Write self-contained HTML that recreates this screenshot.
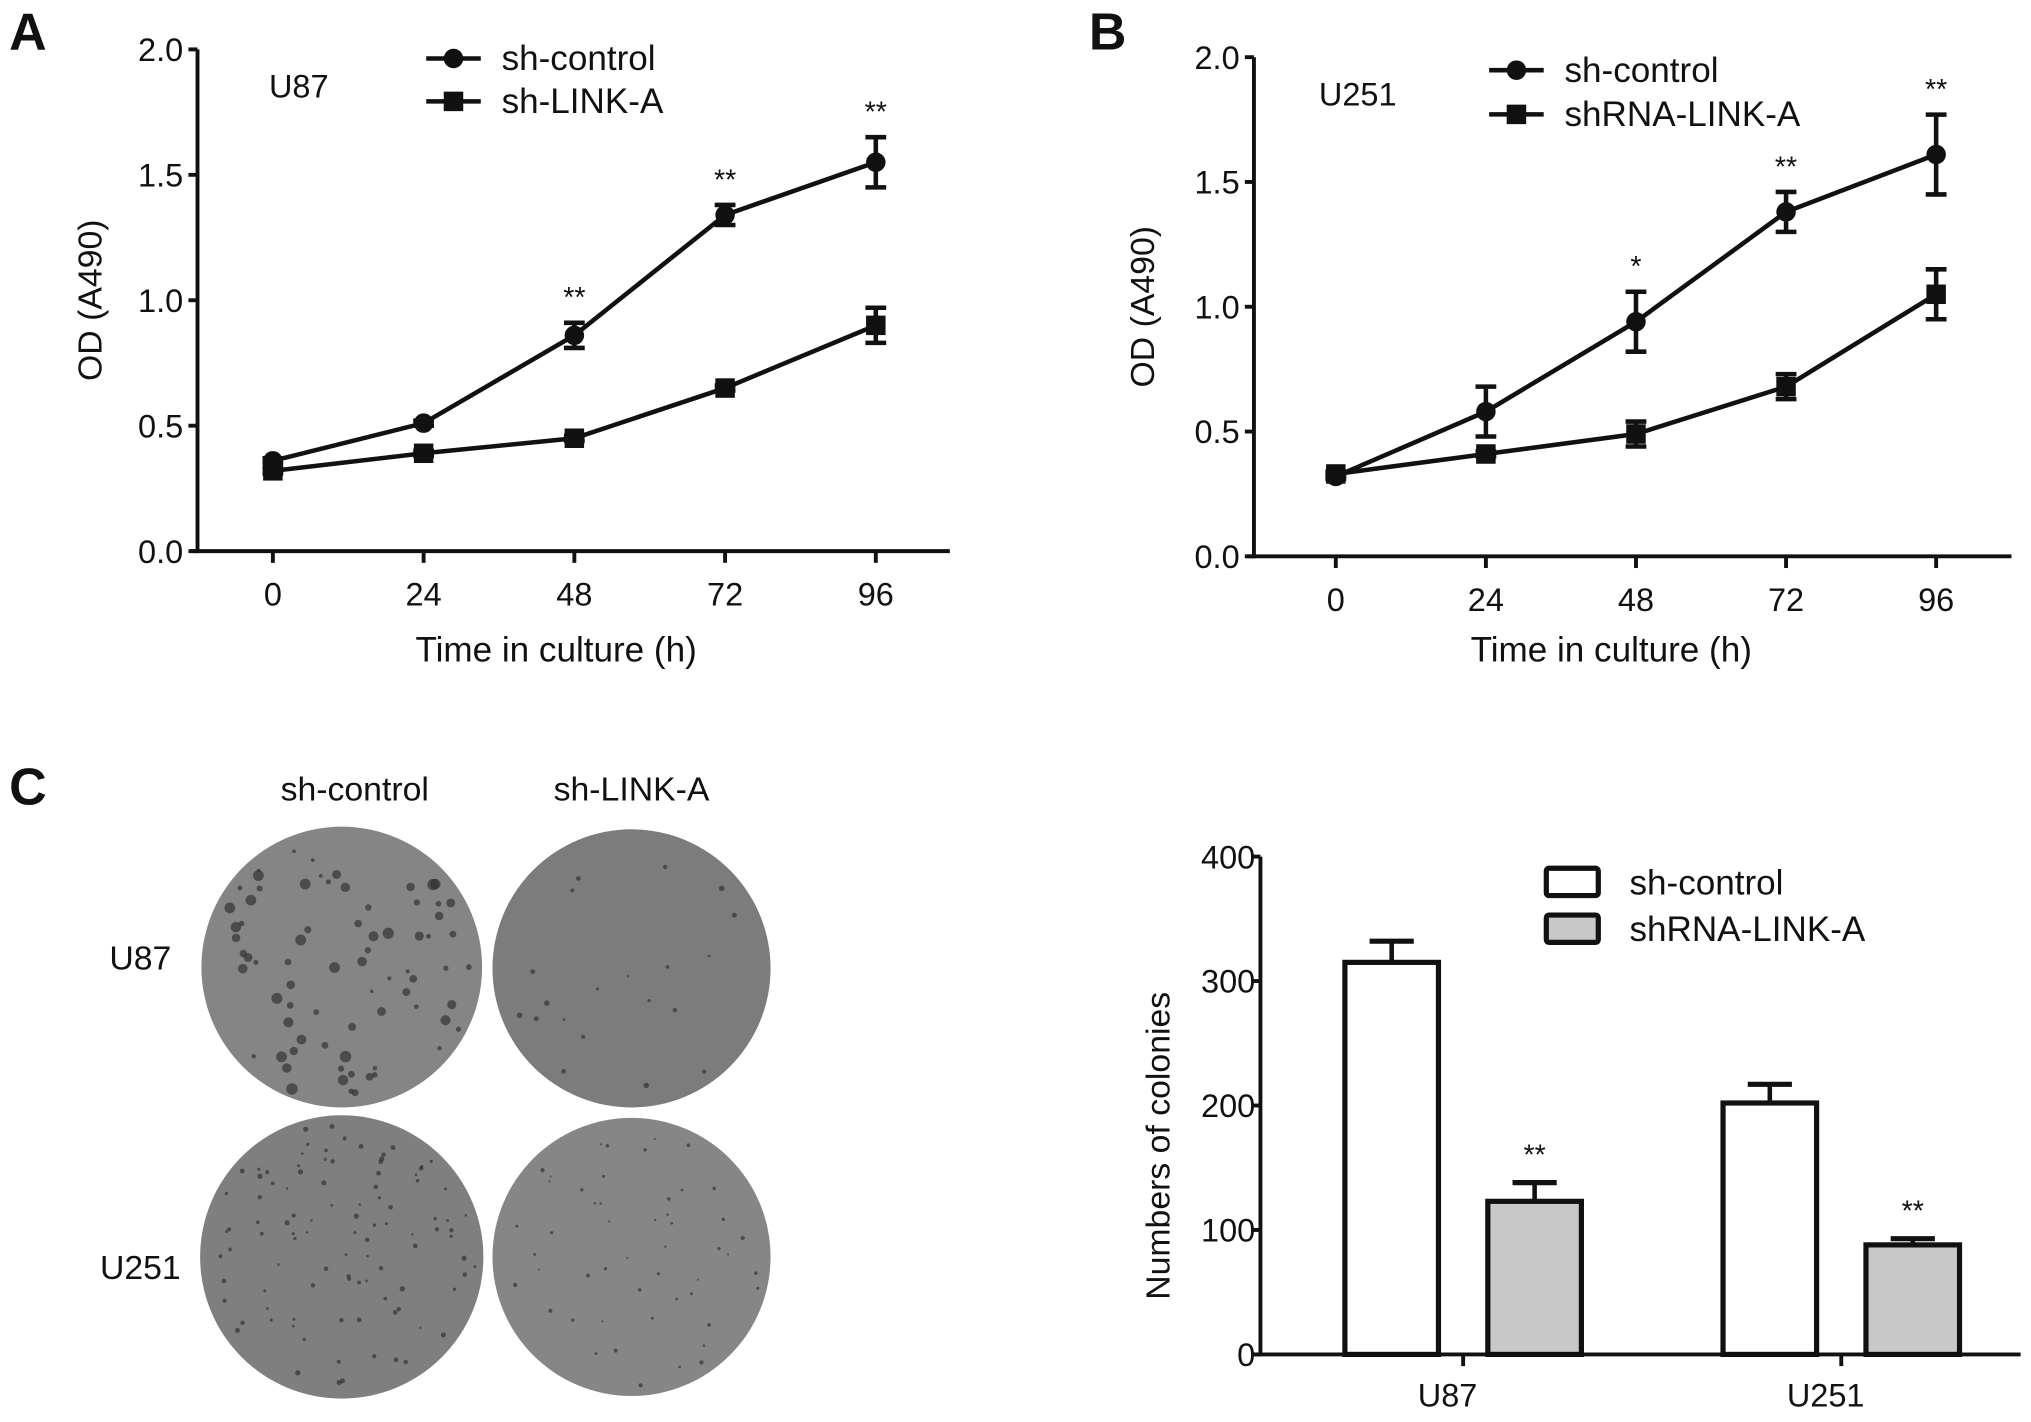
<!DOCTYPE html>
<html><head><meta charset="utf-8"><style>
html,body{margin:0;padding:0;background:#fff}
svg{display:block}
text{font-family:"Liberation Sans",Arial,sans-serif;fill:#111}
</style></head><body>
<svg id="fig" width="2031" height="1422" viewBox="0 0 1563 1094" preserveAspectRatio="none">
<g id="panelA"></g>
<g id="panelB"></g>
<g id="panelC"></g>
<g id="panelD"></g>
</svg>
<script>
// ---- Data ----
const timeCategories = [0, 24, 48, 72, 96];
const odTicks = [0.0, 0.5, 1.0, 1.5, 2.0];
const u87Control = [0.36, 0.51, 0.86, 1.34, 1.55];
const u87ControlErr = [0.01, 0.01, 0.05, 0.04, 0.10];
const u87Link = [0.32, 0.39, 0.45, 0.65, 0.90];
const u87LinkErr = [0.01, 0.01, 0.01, 0.01, 0.07];
const u87Stars = ["", "", "**", "**", "**"];
const u251Control = [0.32, 0.58, 0.94, 1.38, 1.61];
const u251ControlErr = [0.01, 0.10, 0.12, 0.08, 0.16];
const u251Link = [0.33, 0.41, 0.49, 0.68, 1.05];
const u251LinkErr = [0.01, 0.01, 0.05, 0.05, 0.10];
const u251Stars = ["", "", "*", "**", "**"];
const colonyCategories = ["U87", "U251"];
const colonyTicks = [0, 100, 200, 300, 400];
const colonyControl = [315, 202];
const colonyControlErr = [17, 15];
const colonyLink = [123, 88];
const colonyLinkErr = [15, 5];
const colonyStars = ["**", "**"];

const NS = "http://www.w3.org/2000/svg";
function mk(parent, tag, attrs, txt){
  const e = document.createElementNS(NS, tag);
  for (const k in attrs) e.setAttribute(k, attrs[k]);
  if (txt !== undefined) e.textContent = txt;
  parent.appendChild(e);
  return e;
}

function lineChart(g, cfg){
  const xs = t => cfg.x0 + (t - timeCategories[0]) / (timeCategories[4] - timeCategories[0]) * (cfg.x1 - cfg.x0);
  const ys = v => cfg.yb - v / 2.0 * (cfg.yb - cfg.yt);
  let e;
  e = mk(g, "line", {x1: cfg.ax, y1: cfg.yt, x2: cfg.ax, y2: cfg.yb + 1.5, stroke: "#111", "stroke-width": 3});
  
  
  e = mk(g, "line", {x1: cfg.ax - 5, y1: cfg.yb, x2: cfg.xe, y2: cfg.yb, stroke: "#111", "stroke-width": 3});
  
  
  odTicks.forEach(v => {
    mk(g, "line", {x1: cfg.ax - 7, y1: ys(v), x2: cfg.ax, y2: ys(v), stroke: "#111", "stroke-width": 3});
    e = mk(g, "text", {x: cfg.ax - 11, y: ys(v) + 9, "text-anchor": "end", "font-size": 25}, v.toFixed(1));
    
    
  });
  timeCategories.forEach(t => {
    mk(g, "line", {x1: xs(t), y1: cfg.yb, x2: xs(t), y2: cfg.yb + 9, stroke: "#111", "stroke-width": 3});
    e = mk(g, "text", {x: xs(t), y: cfg.yb + 42, "text-anchor": "middle", "font-size": 25}, String(t));
    
    
  });
  e = mk(g, "text", {x: cfg.xtitle, y: 509, "text-anchor": "middle", "font-size": 27}, "Time in culture (h)");
  
  
  e = mk(g, "text", {x: 0, y: 0, "text-anchor": "middle", "font-size": 26, transform: `translate(${cfg.ytx},${(cfg.yt + cfg.yb) / 2}) rotate(-90)`}, "OD (A490)");
  
  
  e = mk(g, "text", {x: cfg.pl[0], y: cfg.pl[1], "font-size": 40, "font-weight": "bold"}, cfg.panel);
  
  
  e = mk(g, "text", {x: cfg.cell[0], y: cfg.cell[1], "font-size": 25}, cfg.cellName);
  
  

  function series(vals, errs, shape, name){
    const sg = mk(g, "g", {});
    
    
    const pts = timeCategories.map((t, i) => xs(t) + "," + ys(vals[i])).join(" ");
    mk(sg, "polyline", {points: pts, fill: "none", stroke: "#111", "stroke-width": 3.5});
    timeCategories.forEach((t, i) => {
      const x = xs(t), y = ys(vals[i]), eh = ys(vals[i] + errs[i]), el = ys(vals[i] - errs[i]);
      mk(sg, "line", {x1: x, y1: eh, x2: x, y2: el, stroke: "#111", "stroke-width": 3.5});
      mk(sg, "line", {x1: x - 8, y1: eh, x2: x + 8, y2: eh, stroke: "#111", "stroke-width": 3.5});
      mk(sg, "line", {x1: x - 8, y1: el, x2: x + 8, y2: el, stroke: "#111", "stroke-width": 3.5});
      let m;
      if (shape === "circle") m = mk(sg, "circle", {cx: x, cy: y, r: 7.5, fill: "#111"});
      else m = mk(sg, "rect", {x: x - 7.5, y: y - 7.5, width: 15, height: 15, fill: "#111"});
      
      
    });
  }
  series(cfg.ctrl, cfg.ctrlErr, "circle", "series-sh-control");
  series(cfg.link, cfg.linkErr, "square", "series-link-a");
  timeCategories.forEach((t, i) => {
    if (!cfg.stars[i]) return;
    const y = ys(cfg.ctrl[i] + cfg.ctrlErr[i]) - 12;
    e = mk(g, "text", {x: xs(t), y: y, "text-anchor": "middle", "font-size": 22}, cfg.stars[i]);
    
    
  });
  [[cfg.leg[1], "circle", cfg.legNames[0]], [cfg.leg[2], "square", cfg.legNames[1]]].forEach(([ly, sh, nm]) => {
    const lg = mk(g, "g", {});
    
    
    mk(lg, "line", {x1: cfg.leg[0], y1: ly, x2: cfg.leg[0] + 42, y2: ly, stroke: "#111", "stroke-width": 3.5});
    if (sh === "circle") mk(lg, "circle", {cx: cfg.leg[0] + 21, cy: ly, r: 7.5, fill: "#111"});
    else mk(lg, "rect", {x: cfg.leg[0] + 13.5, y: ly - 7.5, width: 15, height: 15, fill: "#111"});
    mk(lg, "text", {x: cfg.leg[0] + 58, y: ly + 9, "font-size": 27}, nm);
  });
}

lineChart(document.getElementById("panelA"), {
  ax: 152, yt: 38, yb: 424, x0: 210, x1: 674, xe: 731, xtitle: 428, ytx: 78,
  panel: "A", pl: [7, 38], cell: [207, 75], cellName: "U87",
  ctrl: u87Control, ctrlErr: u87ControlErr, link: u87Link, linkErr: u87LinkErr, stars: u87Stars,
  leg: [328, 45, 78], legNames: ["sh-control", "sh-LINK-A"]
});
lineChart(document.getElementById("panelB"), {
  ax: 965, yt: 44, yb: 428, x0: 1028, x1: 1490, xe: 1548, xtitle: 1240, ytx: 888,
  panel: "B", pl: [838, 38], cell: [1015, 81], cellName: "U251",
  ctrl: u251Control, ctrlErr: u251ControlErr, link: u251Link, linkErr: u251LinkErr, stars: u251Stars,
  leg: [1146, 54, 88], legNames: ["sh-control", "shRNA-LINK-A"]
});

// ---- Panel C plates ----
(function(){
  const g = document.getElementById("panelC");
  let e = mk(g, "text", {x: 7, y: 619, "font-size": 40, "font-weight": "bold"}, "C");
  
  
  [["sh-control", 273], ["sh-LINK-A", 486]].forEach(([t, x]) => {
    e = mk(g, "text", {x: x, y: 616, "text-anchor": "middle", "font-size": 26}, t);
    
    
  });
  [["U87", 746], ["U251", 984]].forEach(([t, y]) => {
    e = mk(g, "text", {x: 108, y: y, "text-anchor": "middle", "font-size": 26}, t);
    
    
  });
  const plates = [[263, 744, 108, "#858585", 75, 2.6], [486, 745, 107, "#7c7c7c", 20, 1.8], [263, 967, 109, "#7f7f7f", 100, 1.8], [486, 967, 107, "#868686", 50, 1.4]];
  let seed = 7;
  const rnd = () => { seed = (seed * 16807) % 2147483647; return seed / 2147483647; };
  plates.forEach(([cx, cy, r, col, n, sz], k) => {
    e = mk(g, "circle", {cx: cx, cy: cy, r: r, fill: col});
    
    
    for (let i = 0; i < n; i++) {
      const a = rnd() * 6.283, d = Math.sqrt(rnd()) * (r - 6);
      const s = sz * (0.5 + rnd() * (k === 0 ? 1.2 : 0.7));
      mk(g, "circle", {cx: cx + Math.cos(a) * d, cy: cy + Math.sin(a) * d, r: s, fill: "#333", opacity: 0.7});
    }
  });
})();

// ---- Colony bar chart ----
(function(){
  const g = document.getElementById("panelD");
  const ax = 970, yb = 1042, yt = 659;
  const ys = v => yb - v / 400 * (yb - yt);
  const catX = [1126, 1417];
  const barW = 72, off = 55;
  let e;
  e = mk(g, "line", {x1: ax, y1: yt, x2: ax, y2: yb + 1.5, stroke: "#111", "stroke-width": 3});
  
  
  e = mk(g, "line", {x1: ax - 5, y1: yb, x2: 1555, y2: yb, stroke: "#111", "stroke-width": 3});
  
  
  colonyTicks.forEach(v => {
    mk(g, "line", {x1: ax - 7, y1: ys(v), x2: ax, y2: ys(v), stroke: "#111", "stroke-width": 3});
    e = mk(g, "text", {x: ax - 4, y: ys(v) + 9, "text-anchor": "end", "font-size": 25}, String(v));
    
    
  });
  e = mk(g, "text", {x: 0, y: 0, "text-anchor": "middle", "font-size": 26, transform: `translate(900,${(yt + yb) / 2 + 31}) rotate(-90)`}, "Numbers of colonies");
  
  
  colonyCategories.forEach((c, i) => {
    const x = catX[i];
    mk(g, "line", {x1: x, y1: yb, x2: x, y2: yb + 9, stroke: "#111", "stroke-width": 3});
    e = mk(g, "text", {x: x - 12, y: yb + 40, "text-anchor": "middle", "font-size": 25}, c);
    
    
    [[colonyControl[i], colonyControlErr[i], -off, "#fff", "bar-sh-control-" + c], [colonyLink[i], colonyLinkErr[i], off, "#c8c8c8", "bar-shrna-link-a-" + c]].forEach(([v, er, dx, fill, nm]) => {
      const bx = x + dx;
      mk(g, "line", {x1: bx, y1: ys(v), x2: bx, y2: ys(v + er), stroke: "#111", "stroke-width": 3.5});
      mk(g, "line", {x1: bx - 17, y1: ys(v + er), x2: bx + 17, y2: ys(v + er), stroke: "#111", "stroke-width": 4});
      e = mk(g, "rect", {x: bx - barW / 2, y: ys(v), width: barW, height: yb - ys(v), fill: fill, stroke: "#111", "stroke-width": 4});
      
      
    });
    e = mk(g, "text", {x: x + off, y: ys(colonyLink[i] + colonyLinkErr[i]) - 14, "text-anchor": "middle", "font-size": 22}, colonyStars[i]);
    
    
  });
  [[668, "#fff", "sh-control"], [704, "#c8c8c8", "shRNA-LINK-A"]].forEach(([y, f, t]) => {
    const lg = mk(g, "g", {});
    
    
    mk(lg, "rect", {x: 1190, y: y, width: 40, height: 21, fill: f, stroke: "#111", "stroke-width": 4, rx: 2});
    mk(lg, "text", {x: 1254, y: y + 20, "font-size": 27}, t);
  });
})();
</script>
</body></html>
